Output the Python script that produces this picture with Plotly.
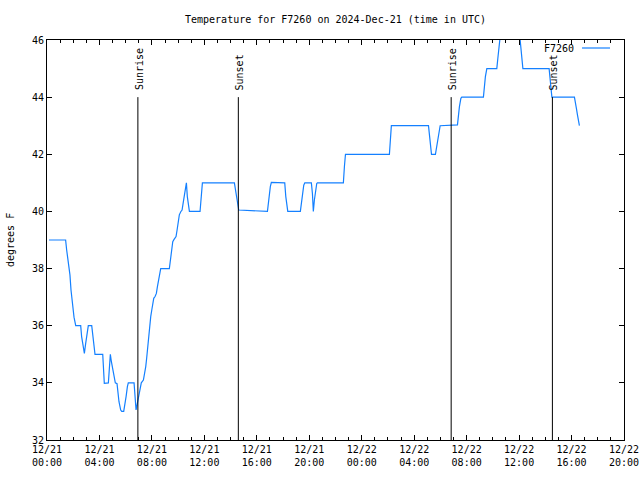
import pandas as pd
import plotly.graph_objects as go

# ---- data (hours after 2024-12-21 00:00 UTC, temperature in F) ----
hours = [0.15, 1.42, 1.50, 1.58, 1.68, 1.75, 1.83, 1.91, 1.98, 2.06, 2.19, 2.57, 2.64, 2.75, 2.85,
         2.95, 3.05, 3.15, 3.41, 3.51, 3.59, 3.66, 4.25, 4.30, 4.35, 4.37, 4.68, 4.83, 4.91, 5.01,
         5.11, 5.21, 5.34, 5.42, 5.49, 5.62, 5.70, 5.85, 5.92, 6.03, 6.13, 6.20, 6.64, 6.71, 6.79,
         6.89, 6.99, 7.09, 7.19, 7.35, 7.45, 7.53, 7.60, 7.68, 7.76, 7.83, 7.91, 7.99, 8.06, 8.14,
         8.24, 8.34, 8.42, 8.52, 8.62, 8.67, 9.33, 9.41, 9.48, 9.59, 9.69, 9.84, 9.92, 9.99, 10.09,
         10.20, 10.30, 10.40, 10.48, 10.55, 10.63, 10.70, 10.81, 10.86, 11.67, 11.75, 11.85, 14.29,
         14.39, 14.47, 14.55, 14.62, 16.81, 16.88, 16.96, 17.03, 17.11, 18.13, 18.21, 18.28, 18.36,
         19.32, 19.40, 19.50, 19.58, 19.66, 20.16, 20.24, 20.31, 20.39, 20.47, 20.57, 20.62, 22.60,
         22.68, 22.76, 26.11, 26.19, 26.26, 29.09, 29.16, 29.24, 29.32, 29.62, 29.69, 29.77, 29.87,
         29.98, 31.30, 31.37, 31.45, 31.56, 31.63, 33.28, 33.36, 33.43, 33.54, 34.30, 34.38, 34.45,
         34.53, 34.75, 35.10, 35.60, 35.95, 36.08, 36.16, 36.23, 36.29, 38.29, 38.37, 38.42, 38.50,
         40.22, 40.30, 40.37, 40.45, 40.53, 40.60]
temps = [39.0, 39.0, 38.65, 38.36, 38.18, 37.78, 37.25, 36.84, 36.6, 36.3, 36.0, 36.0, 35.62, 35.33, 35.03,
         35.38, 35.73, 36.0, 36.0, 35.62, 35.33, 35.0, 35.0, 34.68, 34.24, 33.98, 34.0, 35.0, 34.74, 34.51,
         34.22, 34.0, 33.97, 33.63, 33.34, 33.05, 33.0, 33.0, 33.28, 33.52, 33.87, 34.0, 34.0, 33.52, 33.05,
         33.28, 33.52, 33.87, 34.0, 34.1, 34.33, 34.57, 34.86, 35.27, 35.73, 36.08, 36.32, 36.55, 36.73, 36.96,
         37.02, 37.13, 37.37, 37.66, 37.95, 38.0, 38.0, 38.3, 38.65, 38.94, 39.02, 39.12, 39.35, 39.58, 39.88,
         39.99, 40.05, 40.34, 40.63, 40.87, 41.0, 40.52, 40.17, 40.0, 40.0, 40.4, 41.0, 41.0,
         40.75, 40.52, 40.29, 40.05, 40.0, 40.34, 40.63, 40.87, 41.02, 41.0, 40.52, 40.17, 40.0,
         40.0, 40.34, 40.69, 40.92, 41.0, 41.0, 40.63, 40.0, 40.4, 40.75, 40.98, 41.0, 41.0,
         41.57, 42.0, 42.0, 42.73, 43.0, 43.0, 42.68, 42.39, 42.0, 42.0, 42.21, 42.45, 42.73,
         43.0, 43.03, 43.38, 43.67, 43.96, 44.0, 44.0, 44.43, 44.72, 45.0, 45.0, 45.36, 45.65,
         46.0, 46.4, 47.0, 47.0, 46.4, 46.0, 45.59, 45.24, 45.0, 45.0, 44.66, 44.31, 44.0,
         44.0, 43.84, 43.61, 43.38, 43.2, 43.0]
series_name = "F7260"

event_hours = [6.93, 14.59, 30.82, 38.54]
event_labels = ["Sunrise", "Sunset", "Sunrise", "Sunset"]
event_top = 44

tick_hours = [0, 4, 8, 12, 16, 20, 24, 28, 32, 36, 40, 44]
tick_labels = ["12/21<br>00:00", "12/21<br>04:00", "12/21<br>08:00", "12/21<br>12:00",
               "12/21<br>16:00", "12/21<br>20:00", "12/22<br>00:00", "12/22<br>04:00",
               "12/22<br>08:00", "12/22<br>12:00", "12/22<br>16:00", "12/22<br>20:00"]
y_ticks = [32, 34, 36, 38, 40, 42, 44, 46]

base = pd.Timestamp("2024-12-21 00:00")
def t(h):
    return base + pd.Timedelta(hours=h)

FONT = "DejaVu Sans Mono"
BLUE = "#1480ff"
W, H = 640, 480
ML, MR, MT, MB = 47, 16, 40, 40
PW, PH = W - ML - MR, H - MT - MB

fig = go.Figure()
fig.add_trace(go.Scatter(x=[t(h) for h in hours], y=temps, mode="lines",
                         line=dict(color=BLUE, width=1.2), name=series_name,
                         showlegend=False))

for h, lab in zip(event_hours, event_labels):
    fig.add_shape(type="line", xref="x", yref="y", x0=t(h), x1=t(h), y0=32, y1=event_top,
                  line=dict(color="black", width=1))
    fig.add_annotation(x=t(h), y=event_top, xref="x", yref="y", text=lab, textangle=-90,
                       showarrow=False, xanchor="center", yanchor="bottom", yshift=5, xshift=1,
                       font=dict(family=FONT, size=10, color="black"))

# legend (text on left, sample on right like gnuplot)
def px(xp):
    return (xp - ML) / PW
def py(yp):
    return (H - MB - yp) / PH

fig.add_annotation(x=px(576), y=py(48), xref="paper", yref="paper", text=series_name,
                   showarrow=False, xanchor="right", yanchor="middle",
                   font=dict(family=FONT, size=10, color="black"))
fig.add_shape(type="line", xref="paper", yref="paper", x0=px(582), x1=px(610),
              y0=py(48), y1=py(48), line=dict(color=BLUE, width=1.2))

fig.add_annotation(x=px(10), y=0.5, xref="paper", yref="paper", text="degrees F",
                   textangle=-90, showarrow=False, xanchor="center", yanchor="middle",
                   font=dict(family=FONT, size=10, color="black"))

fig.update_layout(
    width=W, height=H,
    margin=dict(l=ML, r=MR, t=MT, b=MB, autoexpand=False),
    paper_bgcolor="white", plot_bgcolor="white",
    font=dict(family=FONT, size=10, color="black"),
    title=dict(text="Temperature for F7260 on 2024-Dec-21 (time in UTC)",
               x=0.5, xref="paper", xanchor="center",
               y=1 - 19 / H, yref="container", yanchor="middle",
               font=dict(family=FONT, size=10, color="black")),
    showlegend=False,
)
fig.update_xaxes(
    type="date", range=[t(0), t(44)], automargin=False,
    tickmode="array", tickvals=[t(h) for h in tick_hours], ticktext=tick_labels,
    ticks="inside", ticklen=5, tickcolor="black", tickwidth=1,
    showline=True, linecolor="black", linewidth=1, mirror="allticks",
    showgrid=False, zeroline=False,
    minor=dict(ticks="inside", ticklen=3, tickcolor="black", dtick=3600000, tick0=t(0),
               showgrid=False),
    tickfont=dict(family=FONT, size=10, color="black"),
)
fig.update_yaxes(
    range=[32, 46], automargin=False, tickmode="array", tickvals=y_ticks,
    ticktext=[str(v) for v in y_ticks],
    ticks="inside", ticklen=5, tickcolor="black", tickwidth=1,
    showline=True, linecolor="black", linewidth=1, mirror="allticks",
    showgrid=False, zeroline=False,
    tickfont=dict(family=FONT, size=10, color="black"),
)

fig.write_html("out.html")
